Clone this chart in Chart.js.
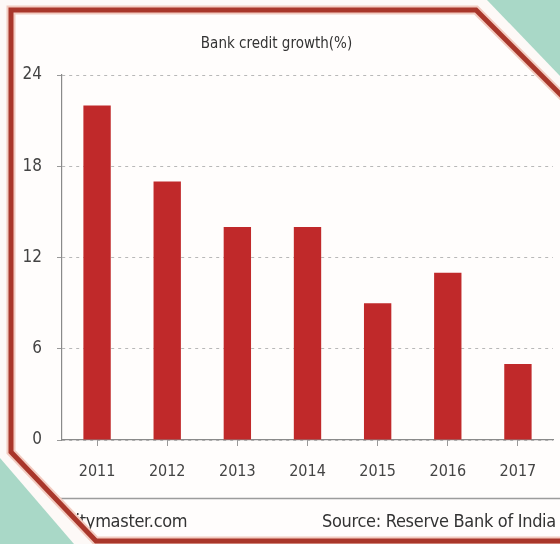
<!DOCTYPE html>
<html>
<head>
<meta charset="utf-8">
<script src="https://cdn.jsdelivr.net/npm/chart.js@4/dist/chart.umd.min.js"></script>
<style>
  html, body { margin: 0; padding: 0; background: #fdf9f7; }
  #wrap { position: relative; width: 560px; height: 544px; overflow: hidden; background: #fffdfc; }
  #c { position: absolute; left: 0; top: 0; }
  .foot { position: absolute; top: 508px; font-family: "Liberation Sans Narrow", "DejaVu Sans Condensed", sans-serif; font-size: 18px; line-height: 26px; color: #333; white-space: nowrap; letter-spacing: -0.3px; }
  #ov { position: absolute; left: 0; top: 0; pointer-events: none; }
</style>
</head>
<body>
<div id="wrap">
  <canvas id="c" width="560" height="544"></canvas>
  <div class="foot" style="left:46px">equitymaster.com</div>
  <div class="foot" style="left:322px">Source: Reserve Bank of India</div>
  <svg id="ov" width="560" height="544" viewBox="0 0 560 544">
    <line x1="0" y1="498.5" x2="560" y2="498.5" stroke="#9c9c9c" stroke-width="1.3"/>
    <path fill-rule="evenodd" fill="#fdf9f7"
      d="M0 0 H560 V544 H0 Z M11 10 L476 10 L570 104 L570 541 L96 541 L11 452 Z"/>
    <polygon points="487,0 560,0 560,76" fill="#a9d8c7"/>
    <polygon points="0,458 0,544 74,544" fill="#a9d8c7"/>
    <path d="M570 104 L476 10 L11 10 L11 452 L96 541 L570 541" fill="none" stroke="#f2cbc0" stroke-width="9" stroke-linejoin="miter"/>
    <path d="M570 104 L476 10 L11 10 L11 452 L96 541 L570 541" fill="none" stroke="#a9372b" stroke-width="5" stroke-linejoin="miter"/>
  </svg>
</div>
<script>
const categories = ["2011", "2012", "2013", "2014", "2015", "2016", "2017"];
const creditGrowth = [22, 17, 14, 14, 9, 11, 5];
const yTicks = [0, 6, 12, 18, 24];
const chartTitle = "Bank credit growth(%)";

const FONT = '"Liberation Sans Narrow", "DejaVu Sans Condensed", sans-serif';

new Chart(document.getElementById("c"), {
  type: "bar",
  data: {
    labels: categories,
    datasets: [{
      data: creditGrowth,
      backgroundColor: "#c0292a",
      borderWidth: 0,
      barPercentage: 0.39,
      categoryPercentage: 1
    }]
  },
  options: {
    responsive: false,
    devicePixelRatio: 1,
    animation: false,
    layout: { padding: { left: 0, right: 7, top: 0, bottom: 44 } },
    plugins: {
      legend: { display: false },
      tooltip: { enabled: false },
      title: {
        display: true,
        text: chartTitle,
        color: "#333",
        font: { family: FONT, size: 15, weight: "normal" },
        padding: { top: 35, bottom: 22 }
      }
    },
    scales: {
      y: {
        min: 0,
        max: 24,
        afterBuildTicks: (s) => { s.ticks = yTicks.map(v => ({ value: v })); },
        afterFit: (s) => { s.width = 62; },
        ticks: { color: "#444", font: { family: FONT, size: 17 }, padding: 15 },
        grid: { color: "#b8b8b8", tickLength: 5, tickColor: "#999" },
        border: { display: true, color: "#8a8a8a", width: 1.2, dash: [3, 4] }
      },
      x: {
        afterFit: (s) => { s.height = 60; },
        ticks: { color: "#444", font: { family: FONT, size: 16 }, padding: 16 },
        grid: { offset: false, drawOnChartArea: false, tickLength: 6, tickColor: "#999" },
        border: { display: true, color: "#8a8a8a", width: 1.2 }
      }
    }
  }
});
</script>
</body>
</html>
